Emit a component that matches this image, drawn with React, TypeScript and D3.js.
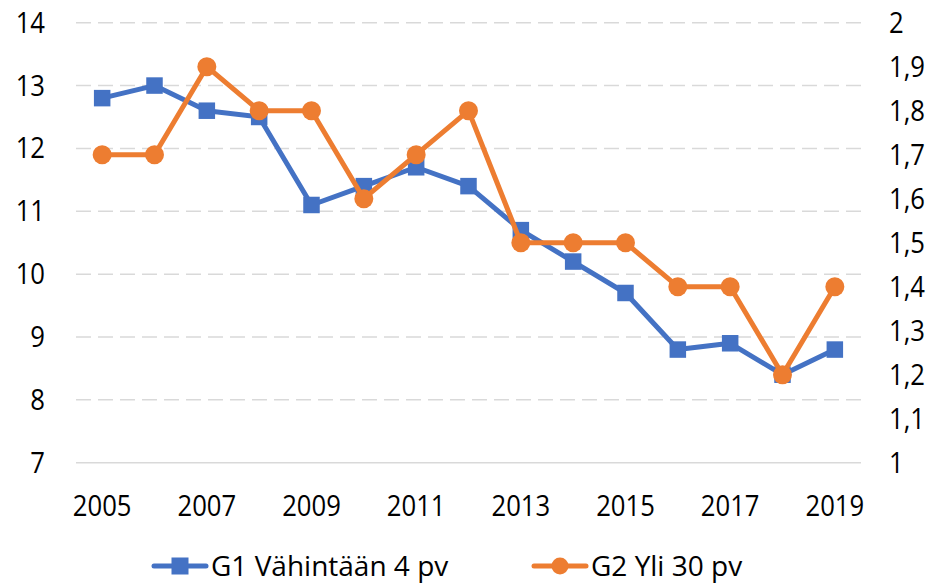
import React, { useEffect, useRef } from "react";
import * as d3 from "d3";

const years = [2005, 2006, 2007, 2008, 2009, 2010, 2011, 2012, 2013, 2014, 2015, 2016, 2017, 2018, 2019];
const g1Values = [12.8, 13.0, 12.6, 12.5, 11.1, 11.4, 11.7, 11.4, 10.7, 10.2, 9.7, 8.8, 8.9, 8.4, 8.8];
const g2Values = [1.7, 1.7, 1.9, 1.8, 1.8, 1.6, 1.7, 1.8, 1.5, 1.5, 1.5, 1.4, 1.4, 1.2, 1.4];
const leftTicks = [7, 8, 9, 10, 11, 12, 13, 14];
const rightTicks = [1, 1.1, 1.2, 1.3, 1.4, 1.5, 1.6, 1.7, 1.8, 1.9, 2];
const xLabels = [2005, 2007, 2009, 2011, 2013, 2015, 2017, 2019];
const seriesNames = ["G1 Vähintään 4 pv", "G2 Yli 30 pv"];

const W = 928;
const H = 584;
const BLUE = "#4472C4";
const ORANGE = "#ED7D31";
const FONT = "'Open Sans', 'Noto Sans', sans-serif";

const App = () => {
    const ref = useRef(null);

    useEffect(() => {
        const svg = d3.select(ref.current);
        svg.selectAll("*").remove();

        const left = 76, right = 861, top = 22.7, bottom = 462.7;

        const x = d3.scaleBand().domain(years.map(String)).range([left, right]);
        const cx = (y: number) => (x(String(y)) as number) + x.bandwidth() / 2;
        const yL = d3.scaleLinear().domain([7, 14]).range([bottom, top]);
        const yR = d3.scaleLinear().domain([1, 2]).range([bottom, top]);

        // ticks text a bit narrow and tall, like the original font
        const tickText = (g, tx, ty, anchor, label) =>
            g.append("text")
                .attr("transform", `translate(${tx},${ty}) scale(0.9,1)`)
                .attr("dy", "0.35em")
                .attr("text-anchor", anchor)
                .style("font-family", FONT)
                .style("font-size", "28.5px")
                .style("fill", "#000")
                .text(label);

        // gridlines
        svg.append("g")
            .selectAll("line")
            .data(leftTicks)
            .enter()
            .append("line")
            .attr("x1", left)
            .attr("x2", right)
            .attr("y1", d => yL(d))
            .attr("y2", d => yL(d))
            .attr("stroke", "#d9d9d9")
            .attr("stroke-width", 1.5)
            .attr("stroke-dasharray", d => (d === 7 ? null : "15,7"));

        const axes = svg.append("g");
        leftTicks.forEach(d => tickText(axes, 45, yL(d), "end", String(d)));

        const fmtR = (d: number) => (Number.isInteger(d) ? String(d) : d3.format(".1f")(d).replace(".", ","));
        rightTicks.forEach(d => tickText(axes, 889, yR(d), "start", fmtR(d)));

        xLabels.forEach(d => tickText(axes, cx(d), 506, "middle", String(d)));

        // G1 line
        const line1 = d3.line<number>().x((d, i) => cx(years[i])).y(d => yL(d));
        svg.append("path")
            .attr("d", line1(g1Values))
            .attr("fill", "none")
            .attr("stroke", BLUE)
            .attr("stroke-width", 5)
            .attr("stroke-linejoin", "round");
        const sq = 16.5;
        svg.append("g")
            .selectAll("rect")
            .data(g1Values)
            .enter()
            .append("rect")
            .attr("x", (d, i) => cx(years[i]) - sq / 2)
            .attr("y", d => yL(d) - sq / 2)
            .attr("width", sq)
            .attr("height", sq)
            .attr("fill", BLUE);

        // G2 line
        const line2 = d3.line<number>().x((d, i) => cx(years[i])).y(d => yR(d));
        svg.append("path")
            .attr("d", line2(g2Values))
            .attr("fill", "none")
            .attr("stroke", ORANGE)
            .attr("stroke-width", 5)
            .attr("stroke-linejoin", "round");
        svg.append("g")
            .selectAll("circle")
            .data(g2Values)
            .enter()
            .append("circle")
            .attr("cx", (d, i) => cx(years[i]))
            .attr("cy", d => yR(d))
            .attr("r", 9.5)
            .attr("fill", ORANGE);

        // legend
        const legY = 566;
        const legend = [
            { name: seriesNames[0], color: BLUE, x: 154, shape: "rect" },
            { name: seriesNames[1], color: ORANGE, x: 534, shape: "circle" },
        ];
        legend.forEach(l => {
            const g = svg.append("g");
            g.append("line")
                .attr("x1", l.x)
                .attr("x2", l.x + 52)
                .attr("y1", legY)
                .attr("y2", legY)
                .attr("stroke", l.color)
                .attr("stroke-width", 5)
                .attr("stroke-linecap", "round");
            if (l.shape === "rect") {
                g.append("rect")
                    .attr("x", l.x + 26 - 8.5)
                    .attr("y", legY - 8.5)
                    .attr("width", 17)
                    .attr("height", 17)
                    .attr("fill", l.color);
            } else {
                g.append("circle")
                    .attr("cx", l.x + 26)
                    .attr("cy", legY)
                    .attr("r", 8.5)
                    .attr("fill", l.color);
            }
            g.append("text")
                .attr("x", l.x + 57)
                .attr("y", legY)
                .attr("dy", "0.35em")
                .style("font-family", FONT)
                .style("font-size", "28px")
                .style("fill", "#000")
                .text(l.name);
        });
    }, []);

    return (
        <svg
            ref={ref}
            width={W}
            height={H}
            style={{ position: "absolute", left: 0, top: 0, background: "#fff" }}
        />
    );
};

export default App;
